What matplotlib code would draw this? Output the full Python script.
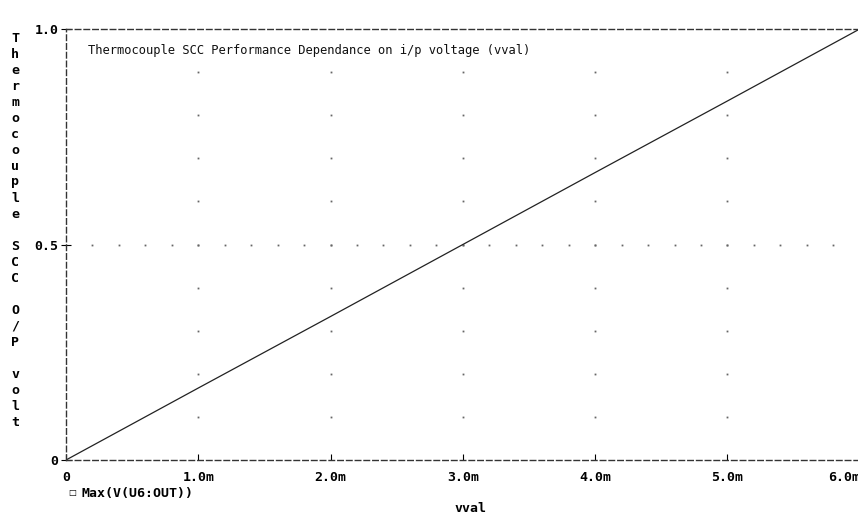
import numpy as np
import matplotlib.pyplot as plt

# data
vval = [0.0, 1.0e-3, 2.0e-3, 3.0e-3, 4.0e-3, 5.0e-3, 6.0e-3]
vout = [0.0, 0.167, 0.333, 0.5, 0.667, 0.833, 1.0]

xticks = [0.0, 1.0e-3, 2.0e-3, 3.0e-3, 4.0e-3, 5.0e-3, 6.0e-3]
xlabels = ['0', '1.0m', '2.0m', '3.0m', '4.0m', '5.0m', '6.0m']
yticks = [0.0, 0.5, 1.0]
ylabels = ['0', '0.5', '1.0']

title = 'Thermocouple SCC Performance Dependance on i/p voltage (vval)'
ylab = 'Thermocouple SCC O/P volt'
trace = 'Max(V(U6:OUT))'

W, H = 858, 516
fig = plt.figure(figsize=(W/100, H/100), dpi=100)
ax = fig.add_axes([66/W, (H-460)/H, (W-66)/W + 0.002, (460-29)/H])

mono = 'DejaVu Sans Mono'
tfs = 9.5

# dotted grid: vertical at each major x tick, horizontal through 0.5
for xv in xticks[1:-1]:
    ys = np.arange(0.1, 0.95, 0.1)
    ax.plot([xv]*len(ys), ys, ls='none', marker='s', ms=1.3, color='#666666', mew=0)
xs = np.arange(0.2e-3, 6.0e-3, 0.2e-3)
ax.plot(xs, [0.5]*len(xs), ls='none', marker='s', ms=1.3, color='#666666', mew=0)

ax.plot(vval, vout, color='#222222', lw=0.9)

ax.set_xlim(0, 6.0e-3)
ax.set_ylim(0, 1.0)
ax.set_xticks(xticks)
ax.set_xticklabels(xlabels, family=mono, fontweight='bold', fontsize=tfs)
ax.set_yticks(yticks)
ax.set_yticklabels(ylabels, family=mono, fontweight='bold', fontsize=tfs)
ax.tick_params(axis='x', direction='in', length=4, width=0.8, pad=8)
ax.tick_params(axis='y', direction='inout', length=7, width=0.8, pad=2)
# last label sits at the right edge of the figure
ax.get_xticklabels()[-1].set_horizontalalignment('right')

for s in ['left', 'bottom', 'top']:
    ax.spines[s].set_linestyle((0, (4, 2.3)))
    ax.spines[s].set_linewidth(1.0)
    ax.spines[s].set_color('#333333')
ax.spines['right'].set_visible(False)

ax.text(0.028, 0.95, title, transform=ax.transAxes, family=mono,
        fontsize=8.7, ha='left', va='center', color='#111111')

# stacked vertical y label
y0 = 38
for i, ch in enumerate(ylab):
    fig.text(15/W, 1 - (y0 + i*16)/H, ch, family=mono, fontweight='bold',
             fontsize=tfs, ha='center', va='center')

# legend marker and trace name
fig.text(72/W, 1 - 493/H, '\u25a1', family='DejaVu Sans', fontsize=6,
         ha='center', va='center')
fig.text(82/W, 1 - 493/H, trace, family=mono, fontweight='bold',
         fontsize=tfs, ha='left', va='center')

fig.text(470/W, 1 - 508/H, 'vval', family=mono, fontweight='bold',
         fontsize=tfs, ha='center', va='center')

fig.savefig('out.png', dpi=100)
